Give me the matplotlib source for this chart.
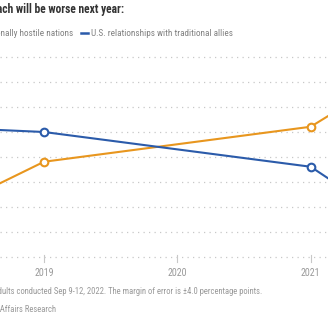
import matplotlib
matplotlib.use("Agg")
import matplotlib.pyplot as plt
from matplotlib import font_manager
from matplotlib.lines import Line2D

names = {f.name for f in font_manager.fontManager.ttflist}
fam = next((n for n in ["Liberation Sans Narrow", "Roboto Condensed", "DejaVu Sans"] if n in names), "DejaVu Sans")
plt.rcParams["font.family"] = [fam, "DejaVu Sans"]

years = [2018, 2019, 2021, 2021.5]
allies = [52.4, 50.0, 36.1, 18.4]
hostile = [12.0, 38.1, 52.1, 68.5]
xticks = [2019, 2020, 2021]
yticks = [0, 10, 20, 30, 40, 50, 60, 70, 80]

orange = "#E8961E"
blue = "#2B5BAA"

fig = plt.figure(figsize=(3.28, 3.28), dpi=100)
ax = fig.add_axes([0, 0, 1, 1])
ax.set_xlim(2018.67, 2021.13)
ax.set_ylim(-28.4, 102.8)
for y in yticks:
    ax.axhline(y, color="#c8c8c8", lw=0.9, ls=(0, (1, 3.4)), zorder=1)
ax.plot(years, hostile, color=orange, lw=1.5, marker="o", ms=5.5, mfc="white", mec=orange, mew=1.5, zorder=3)
ax.plot(years, allies, color=blue, lw=1.5, marker="o", ms=5.5, mfc="white", mec=blue, mew=1.5, zorder=3)
for s in ax.spines.values():
    s.set_visible(False)
ax.set_xticks([])
ax.set_yticks([])
for x in xticks:
    ax.plot([x, x], [0.8, -2], color="#c8c8c8", lw=0.8, zorder=1)
    ax.text(x, -6.4, str(x), ha="center", va="center", fontsize=7.2, color="#9a9a9a")

fig.text(124/328, 1 - 10/328, "Percent who think each will be worse next year:", ha="right", va="center",
         fontsize=8.3, fontweight="bold", color="#333333")
fig.text(73/328, 1 - 33/328, "U.S. relationships with traditionally hostile nations", ha="right", va="center",
         fontsize=6.6, color="#808080")
fig.add_artist(Line2D([81/328, 87.5/328], [1 - 33/328, 1 - 33/328], color=blue, lw=1.8, transform=fig.transFigure))
fig.text(90.5/328, 1 - 33/328, "U.S. relationships with traditional allies", ha="left", va="center",
         fontsize=6.6, color="#808080")
fig.text(262/328, 1 - 292/328,
         "AP-NORC poll of 1,002 adults conducted Sep 9-12, 2022. The margin of error is \u00b14.0 percentage points.",
         ha="right", va="center", fontsize=6.2, color="#999999")
fig.text(56/328, 1 - 309/328, "Source: AP-NORC Center for Public Affairs Research", ha="right", va="center",
         fontsize=6.2, color="#999999")

fig.savefig("out.png", dpi=100)
